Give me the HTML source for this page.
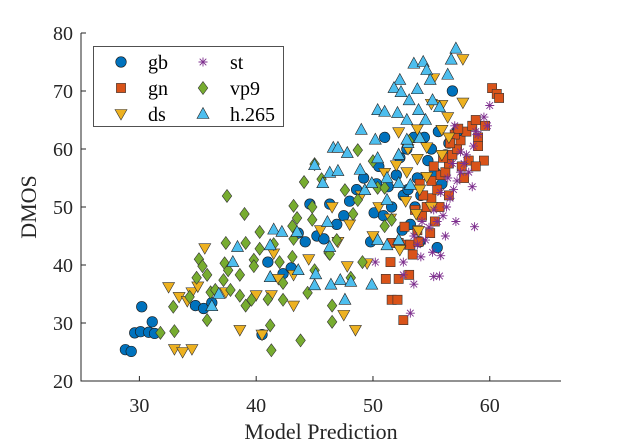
<!DOCTYPE html>
<html><head><meta charset="utf-8"><style>
body{margin:0;background:#fff}
svg{display:block;font-family:"Liberation Serif",serif}
</style></head><body>
<svg id="chart" width="621" height="444" viewBox="0 0 621 444"></svg>
<script>
const xTicks=[30,40,50,60];
const yTicks=[20,30,40,50,60,70,80];
const seriesNames=["gb","gn","ds","st","vp9","h.265"];
const gbData=[[28.8,25.4],[29.3,25.1],[29.6,28.3],[30.1,28.5],[30.2,32.8],[30.8,28.4],[31.1,30.2],[31.3,28.2],[34.8,33],[35.5,32.5],[36.2,33.5],[40.5,28],[41,40.5],[42.3,38.5],[43,39.5],[43.6,45.5],[44.2,44],[44.6,50.5],[45.2,45],[45.8,44.5],[46.3,50.5],[46.9,47],[47.5,48.5],[48,51],[48.6,53],[49.2,55],[49.8,44],[50.1,49],[50.5,57],[50.9,48.5],[51.3,53.5],[51.6,50],[52,55.5],[52.3,58.5],[52.6,52],[52.9,60],[53.2,47],[53.5,62],[53.8,55],[54.1,52],[54.4,62],[54.7,58],[55,60],[55.3,56],[55.6,63],[55.9,54],[56.2,59],[56.5,61],[56.8,70],[57.2,63],[51,62],[52.5,46],[53,53],[54,44],[55.5,43],[50.3,54],[53.6,50]];
const gnData=[[51.1,37.6],[52.2,37.6],[51.6,34],[52.1,34],[52.6,30.5],[53.1,38.3],[51.5,40.5],[52.7,46.6],[51.6,43.8],[52.2,43.8],[52.8,43.5],[53.4,41.8],[53.2,43.5],[53.8,46],[54.2,48.5],[54.6,50],[55,51.5],[54.3,52],[55.5,53],[55,54.5],[55.8,55.5],[56.2,56],[56.5,57.5],[56,58.5],[56.8,59],[57.2,60],[57.5,61.5],[57,62.5],[58,63],[58.5,64],[59,62],[58.2,58],[57.6,57],[59.5,58],[59,60.5],[59.6,64],[60.2,70.5],[60.6,69.5],[60.8,68.8],[55.3,47.5],[54.9,45.5],[53.9,44],[56.5,52],[57.8,55],[58.8,57],[53.6,49.5],[55.7,50],[56.6,61],[57.3,63.5],[58.8,65],[54,54],[55.2,57]];
const dsData=[[32.5,36.2],[35.6,42.9],[33,25.5],[33.7,25],[34.5,25.5],[38.6,28.8],[40.5,28],[40,34.8],[41.3,34.8],[43.2,33],[43.2,38.3],[41.9,37.6],[33.4,34.5],[34.1,33.8],[34.5,35.3],[35,36.3],[37.4,35.3],[57.7,75.5],[55.2,72.2],[57.7,68],[55,67.8],[55.9,67.6],[56.4,65.5],[52.2,62.9],[55.9,63.3],[53.8,63.4],[54.6,60.3],[55.9,59],[53.8,58.3],[52.9,56],[54.6,55.2],[52,57.2],[54,53],[51,55.9],[47.8,39.8],[49.5,40.3],[52.3,42.6],[47.5,31.4],[53.7,48.8],[53.9,45.9],[48.5,28.8],[45.5,46],[46.5,50],[48,47],[49,52],[50.5,50],[51.5,48],[52.8,51],[44.5,41],[47,44],[50,45],[53,60],[56.5,62],[55,50],[41.5,42]];
const stData=[[53.2,31.7],[52.6,38.3],[53.5,36.7],[52.6,40.5],[54.1,41.4],[54.5,44.3],[55.2,38],[55.8,41.6],[55.7,38.1],[58.7,46.6],[50.2,40.5],[55.1,42.2],[53.5,45],[54.8,46.5],[55.5,47.5],[56,48.5],[56.3,50],[56.6,51.5],[55.8,52.5],[56.9,53],[57.2,54.5],[57.5,56],[57.8,57.5],[58.2,56],[58.5,53.5],[58,59],[58.6,60.5],[59,62.5],[57,64],[58.8,63],[60,67.5],[59.5,65.5],[54.2,47.5],[55.2,49.5],[56.4,55],[57.5,59.5],[57.1,47.5],[56.2,45],[53.8,43.5],[59.8,64],[56.8,57.5]];
const vp9Data=[[45,57.4],[37.5,51.9],[39,48.8],[44.1,54.3],[45.6,54.8],[43.2,50.2],[44.8,47.8],[40.3,45.7],[37.4,43.8],[39.1,43.8],[37.3,40.3],[35.1,41],[35.4,39.8],[35.8,38.3],[34.9,37.8],[34.3,34.5],[32.9,32.8],[31.8,28.3],[33,28.6],[35.8,30.5],[39.6,34],[38.6,34.7],[39.1,33],[37.2,37.4],[37.8,35.7],[36.1,35.3],[36.5,35.7],[37.6,39.1],[39.8,40.9],[38.6,38.3],[41.2,29.6],[41.3,25.3],[43.8,27],[42.3,34],[42.3,36.9],[41,34.1],[42,40.5],[43.1,41.4],[45,39.1],[44.4,35.2],[46.2,42.1],[46.5,33],[43.2,44.5],[40.3,42.8],[41.5,43.6],[43.1,46.7],[43.5,48.1],[44.8,50],[39.8,39.8],[48.7,59.8],[53.1,61.4],[50,57.9],[47.6,52.9],[50.4,53.3],[48.7,51.2],[51,53.3],[48.3,48.8],[51,46.7],[51.6,47.8],[49.1,40.5],[48.1,37.8],[46.9,44.3],[46.3,41.9],[46.5,30.2]];
const h265Data=[[57.1,77.3],[56.7,75.4],[53.5,74.7],[54.3,75],[54.6,73.6],[56.4,72.8],[54.9,71.9],[52.3,71.9],[51.8,70.5],[52.4,69.8],[53.8,70.3],[53.1,68.4],[55.1,68.4],[50.4,66.7],[51,66.4],[52.1,66.2],[53.9,66.7],[55.7,67.2],[52.9,65],[54.5,65],[49,63.3],[50.2,61.6],[47.8,59.3],[46.6,60.2],[47,60.2],[50.4,58.4],[52.2,59],[53,61],[48.9,56.4],[54,61.9],[52.9,61.6],[49.3,52.9],[49.9,54.1],[51.2,55],[52.2,54.1],[53.2,53.8],[51.2,51.2],[45,57.2],[46.3,55.9],[47,56.2],[45.7,54.1],[41.5,46.1],[42.2,45.7],[43.5,45.7],[46.1,47.4],[38.4,43.1],[38,40.5],[41.2,43.4],[45.1,38.4],[41.2,37.9],[43.6,39.1],[45,36.5],[46.3,43.1],[36.8,35],[36.2,32.9],[47.2,37.4],[48.1,37.1],[46.4,36.6],[47.6,34],[49.9,36.6],[51.2,43.4],[50.4,44.3],[52.2,44.3]];

const NS="http://www.w3.org/2000/svg";
const svg=document.getElementById('chart');
const L=81,R=561,T=33,B=381,X0=25,X1=66.1,Y0=20,Y1=80;
function sx(v){return L+(v-X0)/(X1-X0)*(R-L);}
function sy(v){return B-(v-Y0)/(Y1-Y0)*(B-T);}
function mk(tag,attrs,parent){const e=document.createElementNS(NS,tag);for(const k in attrs)e.setAttribute(k,attrs[k]);(parent||svg).appendChild(e);return e;}

const colors={gb:"#0072BD",gn:"#D95319",ds:"#EDB120",st:"#7E2F8E",vp9:"#77AC30","h.265":"#4DBEEE"};
function marker(type,x,y,g){
  const c=colors[type];let e;
  if(type==="gb"){e=mk('circle',{cx:x,cy:y,r:5.3,fill:c,stroke:"#1a1a1a","stroke-width":0.6},g);}
  else if(type==="gn"){e=mk('rect',{x:x-4.6,y:y-4.6,width:9.2,height:9.2,fill:c,stroke:"#333","stroke-width":0.6},g);}
  else if(type==="ds"){e=mk('polygon',{points:`${x-6},${y-4.5} ${x+6},${y-4.5} ${x},${y+6}`,fill:c,stroke:"#333","stroke-width":0.6},g);}
  else if(type==="h.265"){e=mk('polygon',{points:`${x-6},${y+4.5} ${x+6},${y+4.5} ${x},${y-6.5}`,fill:c,stroke:"#222","stroke-width":0.6},g);}
  else if(type==="vp9"){e=mk('polygon',{points:`${x},${y-6.5} ${x+4.8},${y} ${x},${y+6.5} ${x-4.8},${y}`,fill:c,stroke:"#333","stroke-width":0.6},g);}
  else {e=mk('path',{d:`M${x-4.5} ${y}H${x+4.5}M${x} ${y-4.5}V${y+4.5}M${x-3.3} ${y-3.3}L${x+3.3} ${y+3.3}M${x-3.3} ${y+3.3}L${x+3.3} ${y-3.3}`,stroke:c,"stroke-width":0.9,fill:"none"},g);}
  return e;
}

const axes=mk('g',{});


mk('path',{d:`M${L} ${T}V${B}H${R}`,stroke:"#262626","stroke-width":1,fill:"none"},axes);
xTicks.forEach(v=>{
  mk('line',{x1:sx(v),x2:sx(v),y1:B,y2:B-5,stroke:"#262626"},axes);
  const t=mk('text',{x:sx(v),y:B+31,"text-anchor":"middle","font-size":20,fill:"#262626"},axes);
  t.textContent=v;
  
  
});
yTicks.forEach(v=>{
  mk('line',{x1:L,x2:L+5,y1:sy(v),y2:sy(v),stroke:"#262626"},axes);
  const t=mk('text',{x:L-8,y:sy(v)+7,"text-anchor":"end","font-size":20,fill:"#262626"},axes);
  t.textContent=v;
  
  
});
const xt=mk('text',{x:321,y:439,"text-anchor":"middle","font-size":22,fill:"#262626"});
xt.textContent="Model Prediction";


const yt=mk('text',{x:0,y:0,"text-anchor":"middle","font-size":22,fill:"#262626",transform:"translate(36,207) rotate(-90)"});
yt.textContent="DMOS";



const allData={gb:gbData,gn:gnData,ds:dsData,st:stData,vp9:vp9Data,"h.265":h265Data};
seriesNames.forEach(n=>{
  const g=mk('g',{});
  
  
  allData[n].forEach(p=>{
    const m=marker(n,sx(p[0]),sy(p[1]),g);
    
    
  });
});

const lg=mk('g',{});


mk('rect',{x:93.5,y:46.5,width:190,height:80,fill:"#fff",stroke:"#262626","stroke-width":0.8},lg);
seriesNames.forEach((n,i)=>{
  const col=Math.floor(i/3),row=i%3;
  const mx=col?203:121, ty=62+row*26;
  const e=mk('g',{},lg);
  
  
  marker(n,mx,ty,e);
  const t=mk('text',{x:mx+27,y:ty+7,"font-size":20,fill:"#000"},e);
  t.textContent=n;
});
</script>
</body></html>
